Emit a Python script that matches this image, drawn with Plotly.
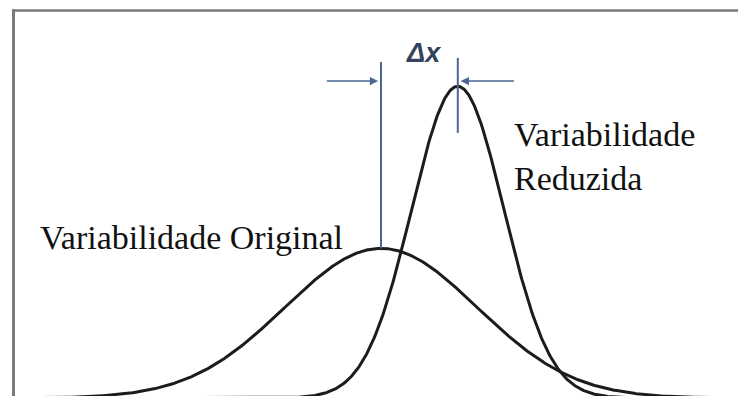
import numpy as np
import plotly.graph_objects as go

# Process distributions: mean and standard deviation of each curve
curve_names = ["Variabilidade Original", "Variabilidade Reduzida"]
means = [0.0, 0.8]
std_devs = [1.0, 0.48]

W, H = 738, 396
X_RANGE = [-3.96875, 3.71875]
Y_RANGE = [0.0053, 1.0613]

CURVE_COLOR = "#1c1c1c"
BLUE = "#4a6794"
FRAME = "#7a7a7a"


def normal_pdf(x, mu, sd):
    return np.exp(-0.5 * ((x - mu) / sd) ** 2) / (sd * np.sqrt(2 * np.pi))


xs = np.linspace(X_RANGE[0], X_RANGE[1], 800)

fig = go.Figure()
for name, mu, sd in zip(curve_names, means, std_devs):
    fig.add_trace(go.Scatter(
        x=xs, y=normal_pdf(xs, mu, sd), mode="lines", name=name,
        line=dict(color=CURVE_COLOR, width=3), hoverinfo="skip",
    ))

peak_orig = normal_pdf(means[0], means[0], std_devs[0])

shapes = [
    # mean markers
    dict(type="line", xref="x", yref="y", x0=means[0], x1=means[0],
         y0=peak_orig, y1=0.896, line=dict(color=BLUE, width=2)),
    dict(type="line", xref="x", yref="y", x0=means[1], x1=means[1],
         y0=0.707, y1=0.907, line=dict(color=BLUE, width=2)),
    # frame
    dict(type="line", xref="paper", yref="paper", x0=13.5 / W, x1=13.5 / W,
         y0=0, y1=1 - 9.5 / H, line=dict(color=FRAME, width=3)),
    dict(type="line", xref="paper", yref="paper", x0=12 / W, x1=1,
         y0=1 - 10.5 / H, y1=1 - 10.5 / H, line=dict(color=FRAME, width=2.5)),
]

arrow_y = 0.845
annotations = [
    dict(x=means[0] - 0.03, y=arrow_y, ax=-0.58, ay=arrow_y,
         xref="x", yref="y", axref="x", ayref="y", text="",
         showarrow=True, arrowhead=2, arrowsize=1.1, arrowwidth=1.5,
         arrowcolor=BLUE, standoff=0),
    dict(x=means[1] + 0.03, y=arrow_y, ax=1.40, ay=arrow_y,
         xref="x", yref="y", axref="x", ayref="y", text="",
         showarrow=True, arrowhead=2, arrowsize=1.1, arrowwidth=1.5,
         arrowcolor=BLUE, standoff=0),
    dict(x=(means[0] + means[1]) / 2 + 0.04, y=0.92, xref="x", yref="y",
         text="<b><i>Δx</i></b>", showarrow=False, xanchor="center", yanchor="middle",
         font=dict(family="Liberation Sans", size=27, color="#34425c")),
    dict(x=38 / W, y=1 - 237 / H, xref="paper", yref="paper",
         text=curve_names[0], showarrow=False, xanchor="left", yanchor="middle",
         font=dict(family="Liberation Serif", size=34, color="#111111")),
    dict(x=512 / W, y=1 - 156 / H, xref="paper", yref="paper",
         text="Variabilidade<br>Reduzida", showarrow=False, align="left",
         xanchor="left", yanchor="middle",
         font=dict(family="Liberation Serif", size=34, color="#111111")),
]

fig.update_layout(
    width=W, height=H,
    margin=dict(l=0, r=0, t=0, b=0),
    paper_bgcolor="white", plot_bgcolor="white",
    showlegend=False,
    xaxis=dict(range=X_RANGE, visible=False, fixedrange=True),
    yaxis=dict(range=Y_RANGE, visible=False, fixedrange=True),
    shapes=shapes,
    annotations=annotations,
)

fig.write_html("out.html", config={"displayModeBar": False})
